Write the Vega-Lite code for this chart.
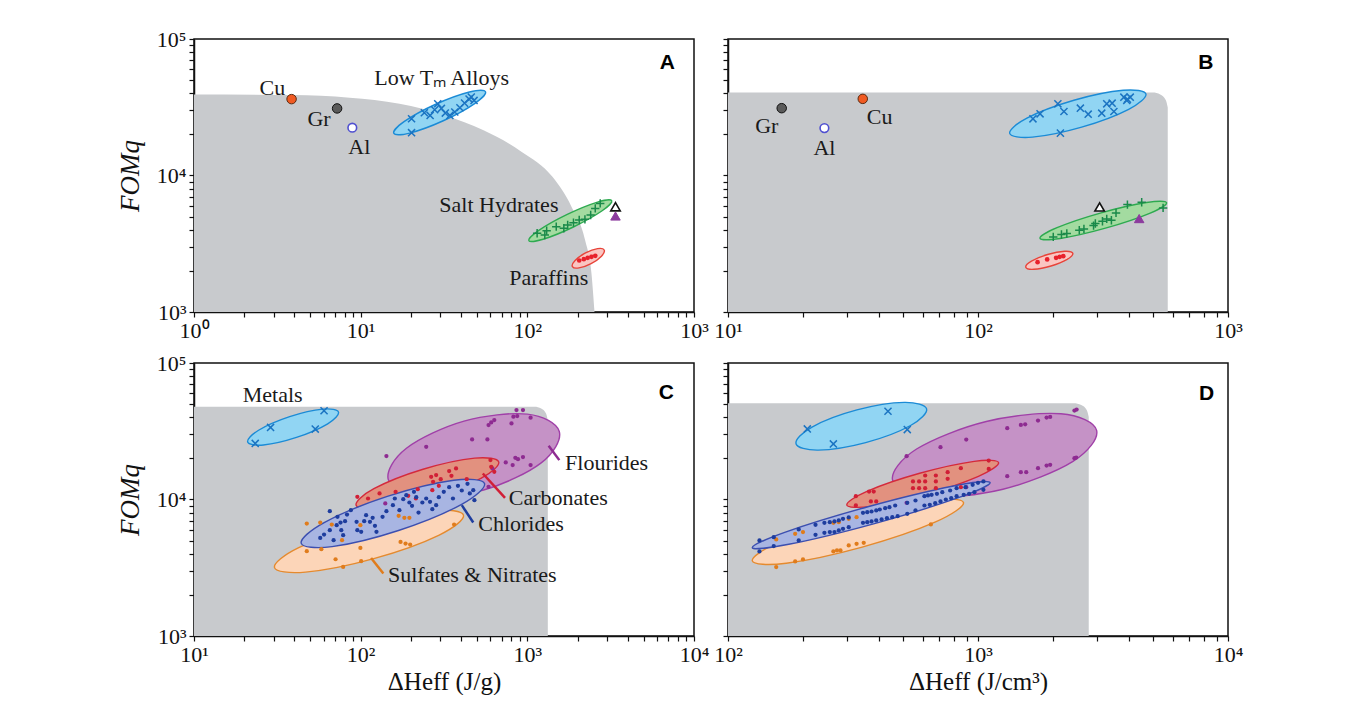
{
"$schema":"https://vega.github.io/schema/vega-lite/v6.json",
"background":"white",
"padding":{"left":115,"top":27,"right":0,"bottom":0},
"config":{
 "font":"Liberation Serif, Times New Roman, serif",
 "view":{"stroke":"#111","strokeWidth":1.5},
 "axis":{"grid":false,"domainColor":"#111","domainWidth":1.5,"tickColor":"#111","tickWidth":1.2,"tickSize":5,"labelFont":"Liberation Serif, Times New Roman, serif","labelFontSize":22,"labelColor":"#111","labelPadding":3,"labelFlush":false,"labelOverlap":false,"labelBound":false,"titleFont":"Liberation Serif, Times New Roman, serif","titleFontSize":25,"titleFontWeight":"normal","titleColor":"#111"},
 "text":{"font":"Liberation Serif, Times New Roman, serif","fontSize":22,"color":"#1a1a1a"}
},
"datasets":{
 "greyA":[{"x":1,"y":39260},{"x":3.89,"y":38800},{"x":8.59,"y":37100},{"x":17.1,"y":33540},{"x":32.2,"y":27550},{"x":54.6,"y":21420},{"x":92.6,"y":14890},{"x":141.5,"y":9780},{"x":184,"y":5910},{"x":222,"y":3373},{"x":242.5,"y":1926},{"x":253,"y":1000}],
 "greyB":[{"x":10,"y":40550},{"x":500,"y":40550},{"x":535.8,"y":39210},{"x":563.6,"y":35730},{"x":574.1,"y":31480}],
 "greyC":[{"x":10,"y":47840},{"x":1104,"y":47840},{"x":1211,"y":46380},{"x":1295,"y":42630},{"x":1327,"y":37990}],
 "greyD":[{"x":100,"y":50690},{"x":2415,"y":50690},{"x":2588,"y":49160},{"x":2722,"y":45170},{"x":2773,"y":40260}],
 "ellA":[
  {"g":"lowtm","i":0,"x":56.1,"y":41100},{"g":"lowtm","i":1,"x":48.3,"y":33650},{"g":"lowtm","i":2,"x":31.3,"y":25180},{"g":"lowtm","i":3,"x":19.7,"y":20460},{"g":"lowtm","i":4,"x":15.8,"y":20370},{"g":"lowtm","i":5,"x":18.3,"y":24890},{"g":"lowtm","i":6,"x":28.2,"y":33270},{"g":"lowtm","i":7,"x":44.9,"y":40930},
  {"g":"salt","i":0,"x":321,"y":6537},{"g":"salt","i":1,"x":279.7,"y":5494},{"g":"salt","i":2,"x":188.8,"y":4195},{"g":"salt","i":3,"x":124.3,"y":3410},{"g":"salt","i":4,"x":102.1,"y":3330},{"g":"salt","i":5,"x":117.2,"y":3963},{"g":"salt","i":6,"x":173.6,"y":5189},{"g":"salt","i":7,"x":263.6,"y":6384},
  {"g":"par","i":0,"x":289.2,"y":2846},{"g":"par","i":1,"x":278.6,"y":2564},{"g":"par","i":2,"x":241.3,"y":2262},{"g":"par","i":3,"x":204.2,"y":2103},{"g":"par","i":4,"x":186.4,"y":2151},{"g":"par","i":5,"x":193.4,"y":2388},{"g":"par","i":6,"x":223.5,"y":2707},{"g":"par","i":7,"x":263.9,"y":2911}],
 "ellB":[
  {"g":"lowtm","i":0,"x":469.5,"y":39540},{"g":"lowtm","i":1,"x":400.6,"y":30550},{"g":"lowtm","i":2,"x":259.8,"y":22610},{"g":"lowtm","i":3,"x":165.1,"y":19100},{"g":"lowtm","i":4,"x":133.9,"y":20340},{"g":"lowtm","i":5,"x":156.9,"y":26320},{"g":"lowtm","i":6,"x":241.9,"y":35580},{"g":"lowtm","i":7,"x":380.9,"y":42110},
  {"g":"salt","i":0,"x":568,"y":6320},{"g":"salt","i":1,"x":485.8,"y":5279},{"g":"salt","i":2,"x":323.5,"y":4111},{"g":"salt","i":3,"x":213,"y":3453},{"g":"salt","i":4,"x":177,"y":3466},{"g":"salt","i":5,"x":207.1,"y":4150},{"g":"salt","i":6,"x":310.9,"y":5329},{"g":"salt","i":7,"x":472.3,"y":6342},
  {"g":"par","i":0,"x":239.4,"y":2692},{"g":"par","i":1,"x":227.3,"y":2428},{"g":"par","i":2,"x":195.9,"y":2172},{"g":"par","i":3,"x":167.3,"y":2055},{"g":"par","i":4,"x":155.3,"y":2126},{"g":"par","i":5,"x":163.6,"y":2357},{"g":"par","i":6,"x":189.8,"y":2636},{"g":"par","i":7,"x":222.3,"y":2785}],
 "ellC":[
  {"g":"met","i":0,"x":73.6,"y":43680},{"g":"met","i":1,"x":63.4,"y":35830},{"g":"met","i":2,"x":41.2,"y":28480},{"g":"met","i":3,"x":26.1,"y":25080},{"g":"met","i":4,"x":21.0,"y":26370},{"g":"met","i":5,"x":24.4,"y":32150},{"g":"met","i":6,"x":37.5,"y":40460},{"g":"met","i":7,"x":59.2,"y":45930},
  {"g":"flu","i":0,"x":1555,"y":31520},{"g":"flu","i":1,"x":1211,"y":18550},{"g":"flu","i":2,"x":546.4,"y":11730},{"g":"flu","i":3,"x":227.8,"y":10440},{"g":"flu","i":4,"x":146.5,"y":13980},{"g":"flu","i":5,"x":188.2,"y":23750},{"g":"flu","i":6,"x":417,"y":37540},{"g":"flu","i":7,"x":1000,"y":42210},
  {"g":"car","i":0,"x":673.3,"y":18850},{"g":"car","i":1,"x":526.5,"y":14280},{"g":"car","i":2,"x":267.1,"y":10280},{"g":"car","i":3,"x":130.8,"y":8526},{"g":"car","i":4,"x":93.9,"y":9087},{"g":"car","i":5,"x":120.1,"y":11990},{"g":"car","i":6,"x":236.7,"y":16650},{"g":"car","i":7,"x":483.4,"y":20090},
  {"g":"chl","i":0,"x":553.4,"y":13090},{"g":"chl","i":1,"x":403.5,"y":9213},{"g":"chl","i":2,"x":168.7,"y":5929},{"g":"chl","i":3,"x":67.4,"y":4515},{"g":"chl","i":4,"x":44.0,"y":4772},{"g":"chl","i":5,"x":60.4,"y":6780},{"g":"chl","i":6,"x":144.5,"y":10530},{"g":"chl","i":7,"x":361.6,"y":13830},
  {"g":"sul","i":0,"x":414,"y":7683},{"g":"sul","i":1,"x":296,"y":5490},{"g":"sul","i":2,"x":119.9,"y":3688},{"g":"sul","i":3,"x":46.7,"y":2938},{"g":"sul","i":4,"x":30.4,"y":3172},{"g":"sul","i":5,"x":42.5,"y":4439},{"g":"sul","i":6,"x":105,"y":6607},{"g":"sul","i":7,"x":269.4,"y":8292}],
 "ellD":[
  {"g":"met","i":0,"x":622.9,"y":46150},{"g":"met","i":1,"x":537.4,"y":34850},{"g":"met","i":2,"x":355.4,"y":26110},{"g":"met","i":3,"x":229.6,"y":22990},{"g":"met","i":4,"x":187.1,"y":25630},{"g":"met","i":5,"x":216.8,"y":33950},{"g":"met","i":6,"x":327.8,"y":45310},{"g":"met","i":7,"x":507.5,"y":51450},
  {"g":"flu","i":0,"x":2982,"y":32050},{"g":"flu","i":1,"x":2390,"y":18920},{"g":"flu","i":2,"x":1258,"y":11890},{"g":"flu","i":3,"x":633.2,"y":10440},{"g":"flu","i":4,"x":455.4,"y":13830},{"g":"flu","i":5,"x":568,"y":23430},{"g":"flu","i":6,"x":1079,"y":37290},{"g":"flu","i":7,"x":2145,"y":42460},
  {"g":"car","i":0,"x":1209,"y":18630},{"g":"car","i":1,"x":1004,"y":14790},{"g":"car","i":2,"x":617.7,"y":10890},{"g":"car","i":3,"x":373.8,"y":8912},{"g":"car","i":4,"x":298.7,"y":9101},{"g":"car","i":5,"x":359.5,"y":11470},{"g":"car","i":6,"x":584.6,"y":15560},{"g":"car","i":7,"x":966,"y":19030},
  {"g":"chl","i":0,"x":1118,"y":13310},{"g":"chl","i":1,"x":823.7,"y":10220},{"g":"chl","i":2,"x":382.3,"y":6637},{"g":"chl","i":3,"x":175.1,"y":4697},{"g":"chl","i":4,"x":125.1,"y":4434},{"g":"chl","i":5,"x":169.7,"y":5773},{"g":"chl","i":6,"x":365.8,"y":8889},{"g":"chl","i":7,"x":798.5,"y":12560},
  {"g":"sul","i":0,"x":875,"y":9508},{"g":"sul","i":1,"x":676.6,"y":6852},{"g":"sul","i":2,"x":344.1,"y":4483},{"g":"sul","i":3,"x":171.1,"y":3415},{"g":"sul","i":4,"x":125.1,"y":3550},{"g":"sul","i":5,"x":161.8,"y":4928},{"g":"sul","i":6,"x":318,"y":7532},{"g":"sul","i":7,"x":640,"y":9886}],
 "ptsA":[
  {"g":"lowtm","x":20.2,"y":26060},{"g":"lowtm","x":20.2,"y":20600},{"g":"lowtm","x":24.1,"y":28840},{"g":"lowtm","x":27.8,"y":30330},{"g":"lowtm","x":29.0,"y":33570},{"g":"lowtm","x":30.5,"y":31000},{"g":"lowtm","x":32.2,"y":28650},{"g":"lowtm","x":34.3,"y":27550},{"g":"lowtm","x":36.7,"y":29170},{"g":"lowtm","x":39.4,"y":31350},{"g":"lowtm","x":42.0,"y":33900},{"g":"lowtm","x":44.7,"y":36300},{"g":"lowtm","x":46.1,"y":37520},{"g":"lowtm","x":47.9,"y":35480},{"g":"lowtm","x":26.1,"y":27550},
  {"g":"salt","x":114.5,"y":3773},{"g":"salt","x":127.3,"y":3668},{"g":"salt","x":130.6,"y":3945},{"g":"salt","x":149.1,"y":4221},{"g":"salt","x":165.6,"y":4104},{"g":"salt","x":174.6,"y":4340},{"g":"salt","x":189.2,"y":4513},{"g":"salt","x":204.8,"y":4721},{"g":"salt","x":221.6,"y":4774},{"g":"salt","x":239.9,"y":5134},{"g":"salt","x":255.6,"y":5743},{"g":"salt","x":273.7,"y":6246},
  {"g":"par","x":204.8,"y":2383},{"g":"par","x":218.3,"y":2437},{"g":"par","x":230.2,"y":2493},{"g":"par","x":242.5,"y":2535},{"g":"par","x":255.7,"y":2578},
  {"g":"cu","x":3.85,"y":36270},{"g":"gr","x":7.22,"y":31000},{"g":"al","x":8.91,"y":22400},
  {"g":"triopen","x":338,"y":5906},{"g":"trifill","x":338,"y":5050}],
 "ptsB":[
  {"g":"lowtm","x":165.9,"y":26020},{"g":"lowtm","x":177.1,"y":28310},{"g":"lowtm","x":208.7,"y":33500},{"g":"lowtm","x":220.7,"y":29440},{"g":"lowtm","x":213.6,"y":20440},{"g":"lowtm","x":256.7,"y":31130},{"g":"lowtm","x":275.9,"y":28150},{"g":"lowtm","x":312.6,"y":28630},{"g":"lowtm","x":327.3,"y":33500},{"g":"lowtm","x":344,"y":33870},{"g":"lowtm","x":349.6,"y":29440},{"g":"lowtm","x":383.2,"y":37480},{"g":"lowtm","x":396,"y":36220},{"g":"lowtm","x":406.4,"y":37480},{"g":"lowtm","x":393.6,"y":35430},
  {"g":"salt","x":200,"y":3551},{"g":"salt","x":215.7,"y":3694},{"g":"salt","x":226.6,"y":3758},{"g":"salt","x":254.2,"y":3977},{"g":"salt","x":265.3,"y":4064},{"g":"salt","x":289.9,"y":4298},{"g":"salt","x":294.7,"y":4446},{"g":"salt","x":314.7,"y":4624},{"g":"salt","x":327.3,"y":4808},{"g":"salt","x":341.7,"y":4703},{"g":"salt","x":356.5,"y":5321},{"g":"salt","x":396,"y":6124},{"g":"salt","x":451.6,"y":6368},{"g":"salt","x":550,"y":5789},
  {"g":"par","x":173.1,"y":2319},{"g":"par","x":189.1,"y":2426},{"g":"par","x":205.3,"y":2495},{"g":"par","x":212.1,"y":2537},{"g":"par","x":219.3,"y":2566},
  {"g":"cu","x":34.6,"y":36430},{"g":"gr","x":16.4,"y":31130},{"g":"al","x":24.3,"y":22240},
  {"g":"triopen","x":306.5,"y":5887},{"g":"trifill","x":441.3,"y":4836}],
 "ptsC":[
  {"g":"met","x":23.3,"y":25750},{"g":"met","x":28.8,"y":33730},{"g":"met","x":53.4,"y":32800},{"g":"met","x":60.3,"y":44720},
  {"g":"flu","x":142.7,"y":20790},{"g":"flu","x":247.3,"y":24340},{"g":"flu","x":466.3,"y":27550},{"g":"flu","x":575.9,"y":27550},{"g":"flu","x":585.2,"y":35100},{"g":"flu","x":607.1,"y":36720},{"g":"flu","x":633.5,"y":38190},{"g":"flu","x":803.5,"y":36100},{"g":"flu","x":824.7,"y":40410},{"g":"flu","x":869.9,"y":40850},{"g":"flu","x":860.8,"y":45230},{"g":"flu","x":941.5,"y":45230},{"g":"flu","x":1046,"y":39720},{"g":"flu","x":617,"y":16880},{"g":"flu","x":742.2,"y":18680},{"g":"flu","x":816.6,"y":17860},{"g":"flu","x":847.2,"y":20210},{"g":"flu","x":879,"y":19760},{"g":"flu","x":941.5,"y":20440},{"g":"flu","x":1046,"y":17860},{"g":"flu","x":585.2,"y":12380},{"g":"flu","x":140.5,"y":9350},
  {"g":"car","x":95.5,"y":10460},{"g":"car","x":110.7,"y":10170},{"g":"car","x":129.8,"y":11070},{"g":"car","x":162,"y":11380},{"g":"car","x":192.9,"y":10640},{"g":"car","x":220.1,"y":11910},{"g":"car","x":264.9,"y":14670},{"g":"car","x":272,"y":13480},{"g":"car","x":283.7,"y":15090},{"g":"car","x":294.4,"y":12600},{"g":"car","x":302.3,"y":14100},{"g":"car","x":339.6,"y":16140},{"g":"car","x":350.5,"y":14920},{"g":"car","x":373.4,"y":16880},{"g":"car","x":433,"y":14100},{"g":"car","x":600.7,"y":19430},{"g":"car","x":607.1,"y":17360},{"g":"car","x":633.5,"y":15960},{"g":"car","x":269.1,"y":11710},{"g":"car","x":214.4,"y":10170},
  {"g":"sul","x":47.5,"y":6668},{"g":"sul","x":47.5,"y":4178},{"g":"sul","x":57.2,"y":6780},{"g":"sul","x":58.1,"y":4322},{"g":"sul","x":67.1,"y":6555},{"g":"sul","x":70.7,"y":3650},{"g":"sul","x":78.5,"y":3207},{"g":"sul","x":99.6,"y":6482},{"g":"sul","x":99.6,"y":4421},{"g":"sul","x":100.7,"y":3529},{"g":"sul","x":169,"y":7591},{"g":"sul","x":182.9,"y":7339},{"g":"sul","x":196,"y":7339},{"g":"sul","x":173.5,"y":4892},{"g":"sul","x":185.9,"y":4756},{"g":"sul","x":198.1,"y":4677},{"g":"sul","x":363.6,"y":6555},{"g":"sul","x":77.3,"y":5032},
  {"g":"chl","x":57.2,"y":5234},{"g":"chl","x":60.3,"y":5538},{"g":"chl","x":65.3,"y":8210},{"g":"chl","x":65.3,"y":5958},{"g":"chl","x":68.8,"y":5032},{"g":"chl","x":71.8,"y":6482},{"g":"chl","x":72.6,"y":7465},{"g":"chl","x":75.7,"y":6780},{"g":"chl","x":76.5,"y":5958},{"g":"chl","x":78.5,"y":5475},{"g":"chl","x":80.6,"y":6935},{"g":"chl","x":82.8,"y":7762},{"g":"chl","x":87.3,"y":8352},{"g":"chl","x":94.5,"y":6857},{"g":"chl","x":95.5,"y":5958},{"g":"chl","x":100.7,"y":5792},{"g":"chl","x":105,"y":6935},{"g":"chl","x":107.8,"y":7678},{"g":"chl","x":113.7,"y":6857},{"g":"chl","x":118,"y":7339},{"g":"chl","x":121.8,"y":6409},{"g":"chl","x":124.4,"y":5792},{"g":"chl","x":135.3,"y":7465},{"g":"chl","x":142.7,"y":8210},{"g":"chl","x":156.1,"y":9087},{"g":"chl","x":160.3,"y":10170},{"g":"chl","x":170.8,"y":8352},{"g":"chl","x":180.1,"y":10060},{"g":"chl","x":187.8,"y":10760},{"g":"chl","x":196,"y":9506},{"g":"chl","x":203.3,"y":8985},{"g":"chl","x":208.8,"y":11380},{"g":"chl","x":215.5,"y":10400},{"g":"chl","x":222.4,"y":8027},{"g":"chl","x":234.5,"y":9506},{"g":"chl","x":247.3,"y":10170},{"g":"chl","x":260.7,"y":9614},{"g":"chl","x":269.1,"y":8494},{"g":"chl","x":283.7,"y":9087},{"g":"chl","x":294.4,"y":10400},{"g":"chl","x":315.3,"y":11380},{"g":"chl","x":339.6,"y":12320},{"g":"chl","x":357.9,"y":10170},{"g":"chl","x":383.4,"y":12600},{"g":"chl","x":404.3,"y":11640},{"g":"chl","x":437.5,"y":13030},{"g":"chl","x":451.7,"y":11070},{"g":"chl","x":473.7,"y":11710},{"g":"chl","x":481.3,"y":9888}],
 "ptsD":[
  {"g":"met","x":207.6,"y":32890},{"g":"met","x":263.9,"y":25550},{"g":"met","x":436.5,"y":44300},{"g":"met","x":521.4,"y":32520},
  {"g":"flu","x":518,"y":20760},{"g":"flu","x":707.9,"y":24150},{"g":"flu","x":897.4,"y":27480},{"g":"flu","x":1309,"y":33270},{"g":"flu","x":1484,"y":35190},{"g":"flu","x":1544,"y":35580},{"g":"flu","x":1738,"y":37840},{"g":"flu","x":1881,"y":39810},{"g":"flu","x":1944,"y":40260},{"g":"flu","x":2431,"y":44800},{"g":"flu","x":2480,"y":45550},{"g":"flu","x":1309,"y":14820},{"g":"flu","x":1484,"y":15850},{"g":"flu","x":1559,"y":15850},{"g":"flu","x":1738,"y":16960},{"g":"flu","x":1881,"y":17740},{"g":"flu","x":1944,"y":17940},{"g":"flu","x":2431,"y":20070},{"g":"flu","x":2471,"y":20300},{"g":"flu","x":897.4,"y":12310},{"g":"flu","x":518,"y":9454},
  {"g":"car","x":324.7,"y":10580},{"g":"car","x":324.7,"y":9040},{"g":"car","x":366.6,"y":11440},{"g":"car","x":382.7,"y":11440},{"g":"car","x":372.8,"y":9670},{"g":"car","x":391.6,"y":9670},{"g":"car","x":549.5,"y":13550},{"g":"car","x":581.3,"y":13550},{"g":"car","x":614.7,"y":13550},{"g":"car","x":678.4,"y":13550},{"g":"car","x":549.5,"y":12100},{"g":"car","x":581.3,"y":12100},{"g":"car","x":614.7,"y":12100},{"g":"car","x":678.4,"y":12100},{"g":"car","x":614.7,"y":14990},{"g":"car","x":678.4,"y":14990},{"g":"car","x":756.2,"y":15850},{"g":"car","x":756.2,"y":14170},{"g":"car","x":854.1,"y":16960},{"g":"car","x":854.1,"y":12310},{"g":"car","x":1104,"y":19290},{"g":"car","x":1104,"y":16760},
  {"g":"sul","x":155.9,"y":5097},{"g":"sul","x":155.9,"y":3198},{"g":"sul","x":185.6,"y":5609},{"g":"sul","x":185.6,"y":3517},{"g":"sul","x":199.5,"y":5768},{"g":"sul","x":199.5,"y":3639},{"g":"sul","x":263.9,"y":6750},{"g":"sul","x":277.4,"y":6825},{"g":"sul","x":263.9,"y":4164},{"g":"sul","x":272.8,"y":4235},{"g":"sul","x":281.8,"y":4235},{"g":"sul","x":304,"y":7219},{"g":"sul","x":304,"y":4606},{"g":"sul","x":326.8,"y":7426},{"g":"sul","x":326.8,"y":4738},{"g":"sul","x":349.1,"y":4819},{"g":"sul","x":647.9,"y":6563},
  {"g":"chl","x":133.6,"y":5012},{"g":"chl","x":152.4,"y":5301},{"g":"chl","x":191.8,"y":6033},{"g":"chl","x":223.9,"y":6525},{"g":"chl","x":243,"y":6750},{"g":"chl","x":255.4,"y":6825},{"g":"chl","x":266.6,"y":6902},{"g":"chl","x":277.4,"y":7019},{"g":"chl","x":288.4,"y":7219},{"g":"chl","x":304,"y":7384},{"g":"chl","x":346.7,"y":7987},{"g":"chl","x":360.6,"y":8077},{"g":"chl","x":375.1,"y":8168},{"g":"chl","x":391.6,"y":8307},{"g":"chl","x":404.6,"y":8448},{"g":"chl","x":425.3,"y":8641},{"g":"chl","x":442.4,"y":8787},{"g":"chl","x":466.3,"y":9038},{"g":"chl","x":521.4,"y":9454},{"g":"chl","x":562.3,"y":9833},{"g":"chl","x":610.6,"y":10580},{"g":"chl","x":631,"y":10700},{"g":"chl","x":652.3,"y":10820},{"g":"chl","x":685,"y":11000},{"g":"chl","x":719.6,"y":11320},{"g":"chl","x":773.6,"y":11640},{"g":"chl","x":821.1,"y":12100},{"g":"chl","x":891.3,"y":12310},{"g":"chl","x":952,"y":12800},{"g":"chl","x":1000,"y":13240},{"g":"chl","x":1051,"y":13550},
  {"g":"chl","x":133.6,"y":4164},{"g":"chl","x":152.4,"y":4555},{"g":"chl","x":191.8,"y":5012},{"g":"chl","x":223.9,"y":5514},{"g":"chl","x":243,"y":5703},{"g":"chl","x":255.4,"y":5768},{"g":"chl","x":266.6,"y":5768},{"g":"chl","x":277.4,"y":5932},{"g":"chl","x":288.4,"y":6101},{"g":"chl","x":304,"y":6275},{"g":"chl","x":346.7,"y":6750},{"g":"chl","x":360.6,"y":6825},{"g":"chl","x":375.1,"y":6902},{"g":"chl","x":391.6,"y":7019},{"g":"chl","x":411.5,"y":7140},{"g":"chl","x":432.3,"y":7302},{"g":"chl","x":454.2,"y":7426},{"g":"chl","x":477.1,"y":7551},{"g":"chl","x":521.4,"y":7853},{"g":"chl","x":562.3,"y":8307},{"g":"chl","x":610.6,"y":9038},{"g":"chl","x":641.5,"y":9141},{"g":"chl","x":674.2,"y":9402},{"g":"chl","x":707.9,"y":9670},{"g":"chl","x":743.6,"y":10000},{"g":"chl","x":781.3,"y":10230},{"g":"chl","x":821.1,"y":10580},{"g":"chl","x":876.8,"y":10820},{"g":"chl","x":921.2,"y":11000},{"g":"chl","x":967.6,"y":11320},{"g":"chl","x":1051,"y":11770}],
 "lblA":[{"t":"Cu","x":2.954,"y":43980},{"t":"Gr","x":5.63,"y":25940},{"t":"Al","x":9.81,"y":16260},{"t":"Low Tₘ Alloys","x":30.6,"y":51500},{"t":"Salt Hydrates","x":67.5,"y":6080},{"t":"Paraffins","x":134.4,"y":1766}],
 "lblB":[{"t":"Gr","x":14.3,"y":23120},{"t":"Al","x":24.3,"y":15880},{"t":"Cu","x":40.4,"y":26770}],
 "lblC":[{"t":"Metals","x":19.6,"y":58200},{"t":"Flourides","x":1684,"y":18580},{"t":"Carbonates","x":774.5,"y":10290},{"t":"Chlorides","x":507.4,"y":6595},{"t":"Sulfates & Nitrates","x":145.8,"y":2818}],
 "legC":[{"g":"flu","x":1342,"y":24750,"x2":1556,"y2":19430},{"g":"car","x":540.7,"y":15510,"x2":734.5,"y2":10290},{"g":"chl","x":404.3,"y":9087,"x2":473.7,"y2":6780},{"g":"sul","x":115.5,"y":3734,"x2":136.8,"y2":2866}]
},
"vconcat":[
 {"hconcat":[
  {"width":500,"height":273,
   "encoding":{
    "x":{"field":"x","type":"quantitative","scale":{"type":"log","domain":[1,1000],"nice":false},"axis":{"title":null,"values":[1,2,3,4,5,6,7,8,9,10,20,30,40,50,60,70,80,90,100,200,300,400,500,600,700,800,900,1000],"labelExpr":"datum.value==1?'10⁰':datum.value==10?'10¹':datum.value==100?'10²':datum.value==1000?'10³':''"}},
    "y":{"field":"y","type":"quantitative","scale":{"type":"log","domain":[1000,100000],"nice":false},"axis":{"title":"FOMq","titleFontSize":27,"titleFontStyle":"italic","titleFontWeight":"normal","titlePadding":12,"values":[1000,2000,3000,4000,5000,6000,7000,8000,9000,10000,20000,30000,40000,50000,60000,70000,80000,90000,100000],"labelExpr":"datum.value==1000?'10³':datum.value==10000?'10⁴':datum.value==100000?'10⁵':''"}}
   },
   "layer":[
    {"data":{"name":"greyA"},"mark":{"type":"area","color":"#c8cacd","interpolate":"monotone"},"encoding":{"y2":{"datum":1000}}},
    {"data":{"name":"ellA"},"transform":[{"filter":"datum.g=='lowtm'"}],"mark":{"type":"line","interpolate":"cardinal-closed","fill":"#91d5f3","stroke":"#1b8bd6","strokeWidth":1.4},"encoding":{"order":{"field":"i","type":"quantitative"}}},
    {"data":{"name":"ellA"},"transform":[{"filter":"datum.g=='salt'"}],"mark":{"type":"line","interpolate":"cardinal-closed","fill":"#a3dba0","stroke":"#2eaa50","strokeWidth":1.4},"encoding":{"order":{"field":"i","type":"quantitative"}}},
    {"data":{"name":"ellA"},"transform":[{"filter":"datum.g=='par'"}],"mark":{"type":"line","interpolate":"cardinal-closed","fill":"#fac6c2","stroke":"#e8443a","strokeWidth":1.4},"encoding":{"order":{"field":"i","type":"quantitative"}}},
    {"data":{"name":"ptsA"},"transform":[{"filter":"datum.g=='lowtm'"}],"mark":{"type":"point","shape":"M-1,-1L1,1M-1,1L1,-1","filled":false,"color":"#1b74c2","strokeWidth":1.5,"size":50,"opacity":1}},
    {"data":{"name":"ptsA"},"transform":[{"filter":"datum.g=='salt'"}],"mark":{"type":"point","shape":"M-1,0L1,0M0,-1L0,1","filled":false,"color":"#1a8a4a","strokeWidth":1.5,"size":70,"opacity":1}},
    {"data":{"name":"ptsA"},"transform":[{"filter":"datum.g=='par'"}],"mark":{"type":"circle","color":"#e8212b","size":22,"opacity":1}},
    {"data":{"name":"ptsA"},"transform":[{"filter":"datum.g=='cu'"}],"mark":{"type":"point","shape":"circle","filled":true,"fill":"#f05a22","stroke":"#5a2a10","strokeWidth":1,"size":90,"opacity":1}},
    {"data":{"name":"ptsA"},"transform":[{"filter":"datum.g=='gr'"}],"mark":{"type":"point","shape":"circle","filled":true,"fill":"#5a5a5a","stroke":"#111","strokeWidth":1,"size":90,"opacity":1}},
    {"data":{"name":"ptsA"},"transform":[{"filter":"datum.g=='al'"}],"mark":{"type":"point","shape":"circle","filled":true,"fill":"#ffffff","stroke":"#5050d0","strokeWidth":1.6,"size":75,"opacity":1}},
    {"data":{"name":"ptsA"},"transform":[{"filter":"datum.g=='triopen'"}],"mark":{"type":"point","shape":"triangle-up","filled":true,"fill":"#ffffff","stroke":"#111","strokeWidth":1.6,"size":90,"opacity":1}},
    {"data":{"name":"ptsA"},"transform":[{"filter":"datum.g=='trifill'"}],"mark":{"type":"point","shape":"triangle-up","filled":true,"fill":"#8c3b9e","stroke":"#8c3b9e","strokeWidth":1,"size":90,"opacity":1}},
    {"data":{"name":"lblA"},"mark":{"type":"text","align":"center","baseline":"middle"},"encoding":{"text":{"field":"t"}}},
    {"data":{"values":[{"t":"A","x":692,"y":66400}]},"mark":{"type":"text","font":"Liberation Sans","fontWeight":"bold","fontSize":21,"color":"#000","align":"center","baseline":"middle"},"encoding":{"text":{"field":"t"}}}
   ]},
  {"width":500,"height":273,
   "encoding":{
    "x":{"field":"x","type":"quantitative","scale":{"type":"log","domain":[10,1000],"nice":false},"axis":{"title":null,"values":[10,20,30,40,50,60,70,80,90,100,200,300,400,500,600,700,800,900,1000],"labelExpr":"datum.value==10?'10¹':datum.value==100?'10²':datum.value==1000?'10³':''"}},
    "y":{"field":"y","type":"quantitative","scale":{"type":"log","domain":[1000,100000],"nice":false},"axis":{"title":null,"labels":false,"values":[1000,2000,3000,4000,5000,6000,7000,8000,9000,10000,20000,30000,40000,50000,60000,70000,80000,90000,100000]}}
   },
   "layer":[
    {"data":{"name":"greyB"},"mark":{"type":"area","color":"#c8cacd","interpolate":"monotone"},"encoding":{"y2":{"datum":1000}}},
    {"data":{"name":"ellB"},"transform":[{"filter":"datum.g=='lowtm'"}],"mark":{"type":"line","interpolate":"cardinal-closed","fill":"#91d5f3","stroke":"#1b8bd6","strokeWidth":1.4},"encoding":{"order":{"field":"i","type":"quantitative"}}},
    {"data":{"name":"ellB"},"transform":[{"filter":"datum.g=='salt'"}],"mark":{"type":"line","interpolate":"cardinal-closed","fill":"#a3dba0","stroke":"#2eaa50","strokeWidth":1.4},"encoding":{"order":{"field":"i","type":"quantitative"}}},
    {"data":{"name":"ellB"},"transform":[{"filter":"datum.g=='par'"}],"mark":{"type":"line","interpolate":"cardinal-closed","fill":"#fac6c2","stroke":"#e8443a","strokeWidth":1.4},"encoding":{"order":{"field":"i","type":"quantitative"}}},
    {"data":{"name":"ptsB"},"transform":[{"filter":"datum.g=='lowtm'"}],"mark":{"type":"point","shape":"M-1,-1L1,1M-1,1L1,-1","filled":false,"color":"#1b74c2","strokeWidth":1.5,"size":50,"opacity":1}},
    {"data":{"name":"ptsB"},"transform":[{"filter":"datum.g=='salt'"}],"mark":{"type":"point","shape":"M-1,0L1,0M0,-1L0,1","filled":false,"color":"#1a8a4a","strokeWidth":1.5,"size":70,"opacity":1}},
    {"data":{"name":"ptsB"},"transform":[{"filter":"datum.g=='par'"}],"mark":{"type":"circle","color":"#e8212b","size":22,"opacity":1}},
    {"data":{"name":"ptsB"},"transform":[{"filter":"datum.g=='cu'"}],"mark":{"type":"point","shape":"circle","filled":true,"fill":"#f05a22","stroke":"#5a2a10","strokeWidth":1,"size":90,"opacity":1}},
    {"data":{"name":"ptsB"},"transform":[{"filter":"datum.g=='gr'"}],"mark":{"type":"point","shape":"circle","filled":true,"fill":"#5a5a5a","stroke":"#111","strokeWidth":1,"size":90,"opacity":1}},
    {"data":{"name":"ptsB"},"transform":[{"filter":"datum.g=='al'"}],"mark":{"type":"point","shape":"circle","filled":true,"fill":"#ffffff","stroke":"#5050d0","strokeWidth":1.6,"size":75,"opacity":1}},
    {"data":{"name":"ptsB"},"transform":[{"filter":"datum.g=='triopen'"}],"mark":{"type":"point","shape":"triangle-up","filled":true,"fill":"#ffffff","stroke":"#111","strokeWidth":1.6,"size":90,"opacity":1}},
    {"data":{"name":"ptsB"},"transform":[{"filter":"datum.g=='trifill'"}],"mark":{"type":"point","shape":"triangle-up","filled":true,"fill":"#8c3b9e","stroke":"#8c3b9e","strokeWidth":1,"size":90,"opacity":1}},
    {"data":{"name":"lblB"},"mark":{"type":"text","align":"center","baseline":"middle"},"encoding":{"text":{"field":"t"}}},
    {"data":{"values":[{"t":"B","x":816,"y":67100}]},"mark":{"type":"text","font":"Liberation Sans","fontWeight":"bold","fontSize":21,"color":"#000","align":"center","baseline":"middle"},"encoding":{"text":{"field":"t"}}}
   ]}
 ],"spacing":2},
 {"hconcat":[
  {"width":500,"height":273,
   "encoding":{
    "x":{"field":"x","type":"quantitative","scale":{"type":"log","domain":[10,10000],"nice":false},"axis":{"title":"ΔHeff (J/g)","titlePadding":4,"values":[10,20,30,40,50,60,70,80,90,100,200,300,400,500,600,700,800,900,1000,2000,3000,4000,5000,6000,7000,8000,9000,10000],"labelExpr":"datum.value==10?'10¹':datum.value==100?'10²':datum.value==1000?'10³':datum.value==10000?'10⁴':''"}},
    "y":{"field":"y","type":"quantitative","scale":{"type":"log","domain":[1000,100000],"nice":false},"axis":{"title":"FOMq","titleFontSize":27,"titleFontStyle":"italic","titleFontWeight":"normal","titlePadding":12,"values":[1000,2000,3000,4000,5000,6000,7000,8000,9000,10000,20000,30000,40000,50000,60000,70000,80000,90000,100000],"labelExpr":"datum.value==1000?'10³':datum.value==10000?'10⁴':datum.value==100000?'10⁵':''"}}
   },
   "layer":[
    {"data":{"name":"greyC"},"mark":{"type":"area","color":"#c8cacd","interpolate":"monotone"},"encoding":{"y2":{"datum":1000}}},
    {"data":{"name":"ellC"},"transform":[{"filter":"datum.g=='flu'"}],"mark":{"type":"line","interpolate":"cardinal-closed","fill":"#c592c6","stroke":"#a040a8","strokeWidth":1.4},"encoding":{"order":{"field":"i","type":"quantitative"}}},
    {"data":{"name":"ellC"},"transform":[{"filter":"datum.g=='car'"}],"mark":{"type":"line","interpolate":"cardinal-closed","fill":"#e2917f","stroke":"#d42a3c","strokeWidth":1.4},"encoding":{"order":{"field":"i","type":"quantitative"}}},
    {"data":{"name":"ellC"},"transform":[{"filter":"datum.g=='sul'"}],"mark":{"type":"line","interpolate":"cardinal-closed","fill":"#fcd5b8","stroke":"#e58a2e","strokeWidth":1.4},"encoding":{"order":{"field":"i","type":"quantitative"}}},
    {"data":{"name":"ellC"},"transform":[{"filter":"datum.g=='chl'"}],"mark":{"type":"line","interpolate":"cardinal-closed","fill":"#a8b5e2","stroke":"#3c4fb0","strokeWidth":1.4},"encoding":{"order":{"field":"i","type":"quantitative"}}},
    {"data":{"name":"ellC"},"transform":[{"filter":"datum.g=='met'"}],"mark":{"type":"line","interpolate":"cardinal-closed","fill":"#91d5f3","stroke":"#1b8bd6","strokeWidth":1.4},"encoding":{"order":{"field":"i","type":"quantitative"}}},
    {"data":{"name":"legC"},"transform":[{"filter":"datum.g=='flu'"}],"mark":{"type":"rule","color":"#8e2b91","strokeWidth":2.5},"encoding":{"x2":{"field":"x2"},"y2":{"field":"y2"}}},
    {"data":{"name":"legC"},"transform":[{"filter":"datum.g=='car'"}],"mark":{"type":"rule","color":"#d11f36","strokeWidth":2.5},"encoding":{"x2":{"field":"x2"},"y2":{"field":"y2"}}},
    {"data":{"name":"legC"},"transform":[{"filter":"datum.g=='chl'"}],"mark":{"type":"rule","color":"#1e3d9e","strokeWidth":2.5},"encoding":{"x2":{"field":"x2"},"y2":{"field":"y2"}}},
    {"data":{"name":"legC"},"transform":[{"filter":"datum.g=='sul'"}],"mark":{"type":"rule","color":"#e07c1c","strokeWidth":2.5},"encoding":{"x2":{"field":"x2"},"y2":{"field":"y2"}}},
    {"data":{"name":"ptsC"},"transform":[{"filter":"datum.g=='flu'"}],"mark":{"type":"circle","color":"#8e2b91","size":18,"opacity":1}},
    {"data":{"name":"ptsC"},"transform":[{"filter":"datum.g=='car'"}],"mark":{"type":"circle","color":"#d11f36","size":18,"opacity":1}},
    {"data":{"name":"ptsC"},"transform":[{"filter":"datum.g=='sul'"}],"mark":{"type":"circle","color":"#e07c1c","size":18,"opacity":1}},
    {"data":{"name":"ptsC"},"transform":[{"filter":"datum.g=='chl'"}],"mark":{"type":"circle","color":"#1e3d9e","size":18,"opacity":1}},
    {"data":{"name":"ptsC"},"transform":[{"filter":"datum.g=='met'"}],"mark":{"type":"point","shape":"M-1,-1L1,1M-1,1L1,-1","filled":false,"color":"#1b74c2","strokeWidth":1.5,"size":50,"opacity":1}},
    {"data":{"name":"lblC"},"mark":{"type":"text","align":"left","baseline":"middle"},"encoding":{"text":{"field":"t"}}},
    {"data":{"values":[{"t":"C","x":6832,"y":59930}]},"mark":{"type":"text","font":"Liberation Sans","fontWeight":"bold","fontSize":21,"color":"#000","align":"center","baseline":"middle"},"encoding":{"text":{"field":"t"}}}
   ]},
  {"width":500,"height":273,
   "encoding":{
    "x":{"field":"x","type":"quantitative","scale":{"type":"log","domain":[100,10000],"nice":false},"axis":{"title":"ΔHeff (J/cm³)","titlePadding":4,"values":[100,200,300,400,500,600,700,800,900,1000,2000,3000,4000,5000,6000,7000,8000,9000,10000],"labelExpr":"datum.value==100?'10²':datum.value==1000?'10³':datum.value==10000?'10⁴':''"}},
    "y":{"field":"y","type":"quantitative","scale":{"type":"log","domain":[1000,100000],"nice":false},"axis":{"title":null,"labels":false,"values":[1000,2000,3000,4000,5000,6000,7000,8000,9000,10000,20000,30000,40000,50000,60000,70000,80000,90000,100000]}}
   },
   "layer":[
    {"data":{"name":"greyD"},"mark":{"type":"area","color":"#c8cacd","interpolate":"monotone"},"encoding":{"y2":{"datum":1000}}},
    {"data":{"name":"ellD"},"transform":[{"filter":"datum.g=='flu'"}],"mark":{"type":"line","interpolate":"cardinal-closed","fill":"#c592c6","stroke":"#a040a8","strokeWidth":1.4},"encoding":{"order":{"field":"i","type":"quantitative"}}},
    {"data":{"name":"ellD"},"transform":[{"filter":"datum.g=='car'"}],"mark":{"type":"line","interpolate":"cardinal-closed","fill":"#e2917f","stroke":"#d42a3c","strokeWidth":1.4},"encoding":{"order":{"field":"i","type":"quantitative"}}},
    {"data":{"name":"ellD"},"transform":[{"filter":"datum.g=='sul'"}],"mark":{"type":"line","interpolate":"cardinal-closed","fill":"#fcd5b8","stroke":"#e58a2e","strokeWidth":1.4},"encoding":{"order":{"field":"i","type":"quantitative"}}},
    {"data":{"name":"ellD"},"transform":[{"filter":"datum.g=='chl'"}],"mark":{"type":"line","interpolate":"cardinal-closed","fill":"#a8b5e2","stroke":"#3c4fb0","strokeWidth":1.4},"encoding":{"order":{"field":"i","type":"quantitative"}}},
    {"data":{"name":"ellD"},"transform":[{"filter":"datum.g=='met'"}],"mark":{"type":"line","interpolate":"cardinal-closed","fill":"#91d5f3","stroke":"#1b8bd6","strokeWidth":1.4},"encoding":{"order":{"field":"i","type":"quantitative"}}},
    {"data":{"name":"ptsD"},"transform":[{"filter":"datum.g=='flu'"}],"mark":{"type":"circle","color":"#8e2b91","size":18,"opacity":1}},
    {"data":{"name":"ptsD"},"transform":[{"filter":"datum.g=='car'"}],"mark":{"type":"circle","color":"#d11f36","size":18,"opacity":1}},
    {"data":{"name":"ptsD"},"transform":[{"filter":"datum.g=='sul'"}],"mark":{"type":"circle","color":"#e07c1c","size":18,"opacity":1}},
    {"data":{"name":"ptsD"},"transform":[{"filter":"datum.g=='chl'"}],"mark":{"type":"circle","color":"#1e3d9e","size":18,"opacity":1}},
    {"data":{"name":"ptsD"},"transform":[{"filter":"datum.g=='met'"}],"mark":{"type":"point","shape":"M-1,-1L1,1M-1,1L1,-1","filled":false,"color":"#1b74c2","strokeWidth":1.5,"size":50,"opacity":1}},
    {"data":{"values":[{"t":"D","x":8209,"y":59330}]},"mark":{"type":"text","font":"Liberation Sans","fontWeight":"bold","fontSize":21,"color":"#000","align":"center","baseline":"middle"},"encoding":{"text":{"field":"t"}}}
   ]}
 ],"spacing":2}
],
"spacing":9
}
